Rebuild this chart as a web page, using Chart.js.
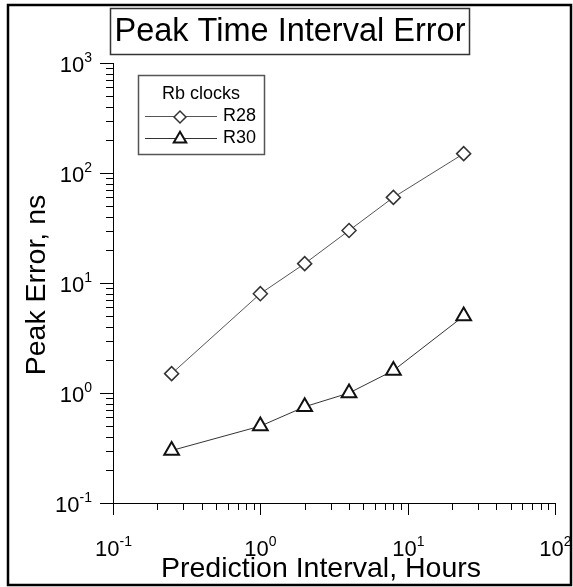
<!DOCTYPE html>
<html>
<head>
<meta charset="utf-8">
<script src="https://cdn.jsdelivr.net/npm/chart.js@4.4.1/dist/chart.umd.min.js"></script>
<style>
  html, body { margin: 0; padding: 0; background: #fff; }
  canvas { display: block; }
</style>
</head>
<body>
<canvas id="peakChart" width="573" height="587"></canvas>
<script>
// values
const hours = [0.25, 1, 2, 4, 8, 24];
const r28Errors = [1.5, 8, 15, 30, 60, 150];
const r30Errors = [0.3, 0.5, 0.75, 1.0, 1.6, 5];
const seriesNames = ['R28', 'R30'];
const legendTitle = 'Rb clocks';
const chartTitle = 'Peak Time Interval Error';
const xAxisTitle = 'Prediction Interval, Hours';
const yAxisTitle = 'Peak Error, ns';
const xTickPowers = [-1, 0, 1, 2];
const yTickPowers = [-1, 0, 1, 2, 3];

const FONT = '"Liberation Sans", Arial, sans-serif';

function toPoints(xs, ys) {
    return xs.map((x, i) => ({ x: x, y: ys[i] }));
}

// draws "10" with a raised exponent
function drawPower(ctx, exp, x, y, align) {
    const base = '10';
    const sup = String(exp);
    ctx.font = '22px ' + FONT;
    const wBase = ctx.measureText(base).width;
    ctx.font = '14px ' + FONT;
    const wSup = ctx.measureText(sup).width;
    let left = x;
    if (align === 'center') left = x - (wBase + wSup) / 2;
    if (align === 'right') left = x - (wBase + wSup);
    ctx.textAlign = 'left';
    ctx.textBaseline = 'alphabetic';
    ctx.font = '22px ' + FONT;
    ctx.fillText(base, left, y);
    ctx.font = '14px ' + FONT;
    ctx.fillText(sup, left + wBase, y - 10);
}

const logAxesPlugin = {
    id: 'logAxes',
    afterDraw(chart) {
        const ctx = chart.ctx;
        const xs = chart.scales.x;
        const ys = chart.scales.y;
        const area = chart.chartArea;
        ctx.save();
        ctx.strokeStyle = '#000';
        ctx.fillStyle = '#000';
        ctx.lineWidth = 1;

        // x ticks (outward, down)
        for (let e = xTickPowers[0]; e < xTickPowers[xTickPowers.length - 1]; e++) {
            for (let k = 2; k <= 9; k++) {
                const px = Math.round(xs.getPixelForValue(k * Math.pow(10, e))) + 0.5;
                ctx.beginPath();
                ctx.moveTo(px, area.bottom);
                ctx.lineTo(px, area.bottom + 7);
                ctx.stroke();
            }
        }
        xTickPowers.forEach(p => {
            const px = Math.round(xs.getPixelForValue(Math.pow(10, p))) + 0.5;
            ctx.beginPath();
            ctx.moveTo(px, area.bottom);
            ctx.lineTo(px, area.bottom + 12);
            ctx.stroke();
            drawPower(ctx, p, px, area.bottom + 53, 'center');
        });

        // y ticks (outward, left)
        for (let e = yTickPowers[0]; e < yTickPowers[yTickPowers.length - 1]; e++) {
            for (let k = 2; k <= 9; k++) {
                const py = Math.round(ys.getPixelForValue(k * Math.pow(10, e))) + 0.5;
                ctx.beginPath();
                ctx.moveTo(area.left, py);
                ctx.lineTo(area.left - 7, py);
                ctx.stroke();
            }
        }
        yTickPowers.forEach(p => {
            const py = Math.round(ys.getPixelForValue(Math.pow(10, p))) + 0.5;
            ctx.beginPath();
            ctx.moveTo(area.left, py);
            ctx.lineTo(area.left - 13, py);
            ctx.stroke();
            drawPower(ctx, p, area.left - 21, py + 8, 'right');
        });

        // axis titles
        ctx.font = '28.5px ' + FONT;
        ctx.textAlign = 'center';
        ctx.textBaseline = 'alphabetic';
        ctx.fillText(xAxisTitle, 321, 577);
        ctx.save();
        ctx.translate(37, (area.top + area.bottom) / 2 + 2);
        ctx.rotate(-Math.PI / 2);
        ctx.textBaseline = 'middle';
        ctx.fillText(yAxisTitle, 0, 0);
        ctx.restore();

        // chart title in a box
        ctx.lineWidth = 1.5;
        ctx.strokeStyle = '#333';
        ctx.strokeRect(110.5, 8.5, 359, 46);
        ctx.font = '32.5px ' + FONT;
        ctx.textBaseline = 'middle';
        ctx.fillText(chartTitle, 290, 32);

        // legend box
        ctx.strokeStyle = '#555';
        ctx.lineWidth = 1.5;
        ctx.strokeRect(138.5, 75.5, 126, 79);
        ctx.font = '18px ' + FONT;
        ctx.textAlign = 'center';
        ctx.fillText(legendTitle, 201, 94);
        chart.data.datasets.forEach((ds, i) => {
            const ry = 116 + i * 22;
            ctx.strokeStyle = ds.borderColor;
            ctx.lineWidth = ds.borderWidth;
            ctx.beginPath();
            ctx.moveTo(145, ry + 0.5);
            ctx.lineTo(217, ry + 0.5);
            ctx.stroke();
            ctx.fillStyle = ds.pointBackgroundColor;
            ctx.strokeStyle = ds.pointBorderColor;
            ctx.lineWidth = ds.pointBorderWidth;
            Chart.helpers.drawPoint(ctx, {
                pointStyle: ds.pointStyle,
                radius: ds.pointRadius * 0.85,
                borderWidth: ds.pointBorderWidth,
                rotation: 0
            }, 180, ry + 1);
            ctx.fillStyle = '#000';
            ctx.textAlign = 'left';
            ctx.fillText(ds.label, 223, ry);
        });

        // outer frame
        ctx.strokeStyle = '#000';
        ctx.lineWidth = 2.5;
        ctx.strokeRect(8, 5, 563, 580);
        ctx.restore();
    }
};

new Chart(document.getElementById('peakChart').getContext('2d'), {
    type: 'line',
    data: {
        datasets: [{
            label: seriesNames[0],
            data: toPoints(hours, r28Errors),
            borderColor: '#555',
            borderWidth: 1,
            pointStyle: 'rectRot',
            pointRadius: 7,
            pointBackgroundColor: '#fff',
            pointBorderColor: '#333',
            pointBorderWidth: 1.5,
            tension: 0
        }, {
            label: seriesNames[1],
            data: toPoints(hours, r30Errors),
            borderColor: '#333',
            borderWidth: 1,
            pointStyle: 'triangle',
            pointRadius: 8.5,
            pointBackgroundColor: '#fff',
            pointBorderColor: '#111',
            pointBorderWidth: 2,
            tension: 0
        }]
    },
    options: {
        responsive: false,
        animation: false,
        layout: { padding: { left: 0, right: 18, top: 63, bottom: 0 } },
        plugins: {
            legend: { display: false },
            title: { display: false },
            tooltip: { enabled: false }
        },
        scales: {
            x: {
                type: 'logarithmic',
                min: 0.1,
                max: 100,
                grid: { display: false },
                border: { display: true, color: '#000', width: 1 },
                ticks: { display: false },
                afterFit: scale => { scale.height = 84; }
            },
            y: {
                type: 'logarithmic',
                min: 0.1,
                max: 1000,
                grid: { display: false },
                border: { display: true, color: '#000', width: 1 },
                ticks: { display: false },
                afterFit: scale => { scale.width = 113; }
            }
        }
    },
    plugins: [logAxesPlugin]
});
</script>
</body>
</html>
